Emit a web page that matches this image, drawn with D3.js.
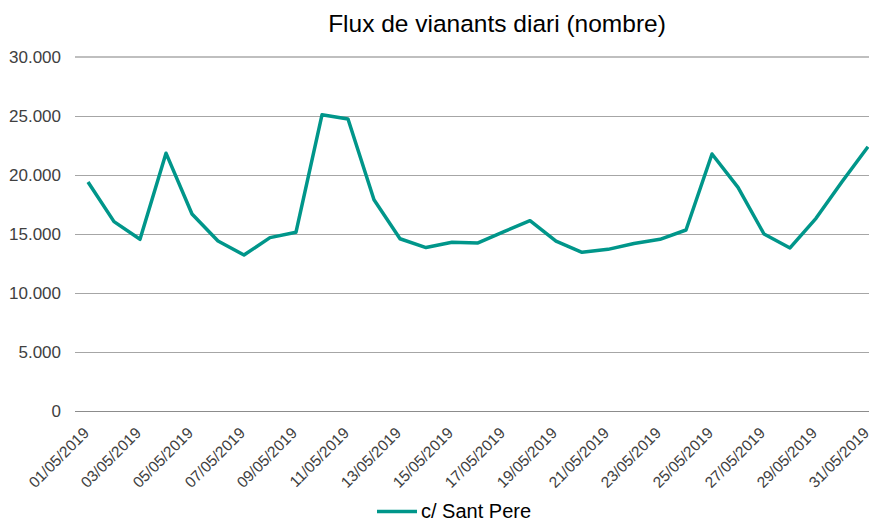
<!DOCTYPE html>
<html>
<head>
<meta charset="utf-8">
<script src="https://cdn.jsdelivr.net/npm/d3@7"></script>
<style>
  body { margin: 0; background: #fff; }
  svg { display: block; font-family: "Liberation Sans", Arial, sans-serif; }
</style>
</head>
<body>
<div id="chart"></div>
<script>
// --- DADES ---
const dates = [
  "01/05/2019","02/05/2019","03/05/2019","04/05/2019","05/05/2019","06/05/2019",
  "07/05/2019","08/05/2019","09/05/2019","10/05/2019","11/05/2019","12/05/2019",
  "13/05/2019","14/05/2019","15/05/2019","16/05/2019","17/05/2019","18/05/2019",
  "19/05/2019","20/05/2019","21/05/2019","22/05/2019","23/05/2019","24/05/2019",
  "25/05/2019","26/05/2019","27/05/2019","28/05/2019","29/05/2019","30/05/2019",
  "31/05/2019"
];
const santPere = [
  19400, 16050, 14550, 21850, 16700, 14400, 13220, 14690, 15150, 25100,
  24750, 17900, 14600, 13850, 14300, 14240, 15200, 16130, 14400, 13450,
  13700, 14200, 14550, 15340, 21780, 18950, 15000, 13820, 16330, 19430,
  22400
];
const yTicks = [0, 5000, 10000, 15000, 20000, 25000, 30000];
const seriesName = "c/ Sant Pere";
const title = "Flux de vianants diari (nombre)";

// --- CONFIGURACIÓ ---
const W = 869, H = 521;
const plot = { left: 75, right: 881, top: 57, bottom: 411 };
const lineColor = "#00968a";
const labelColor = "#404040";

const svg = d3.select("#chart").append("svg")
  .attr("width", W).attr("height", H);

// Escala x per categories (la darrera banda queda retallada a la dreta)
const x = d3.scaleBand().domain(dates).range([plot.left, plot.right]).padding(0);
const xc = d => x(d) + x.bandwidth() / 2;

const y = d3.scaleLinear().domain([0, 30000]).range([plot.bottom, plot.top]);
const fmt = v => v === 0 ? "0" : d3.format(",")(v).replace(/,/g, ".");

// Línies de graella
svg.append("g")
  .selectAll("line")
  .data(yTicks)
  .join("line")
  .attr("x1", plot.left).attr("x2", W)
  .attr("y1", d => y(d)).attr("y2", d => y(d))
  .attr("stroke", d => d === 0 ? "#8c8c8c" : (d === 30000 ? "#bfbfbf" : "#a6a6a6"))
  .attr("stroke-width", d => d === 30000 ? 1.5 : 1)
  .attr("shape-rendering", "crispEdges");

// Eix y
const yAxis = svg.append("g")
  .attr("transform", `translate(${plot.left - 14},0)`)
  .call(d3.axisLeft(y).tickValues(yTicks).tickFormat(fmt).tickSize(0).tickPadding(0));
yAxis.select(".domain").remove();
yAxis.selectAll("text")
  .style("font-size", "17px")
  .attr("fill", labelColor);

// Eix x (etiquetes cada dos dies, girades)
const xAxis = svg.append("g")
  .attr("transform", `translate(0,${plot.bottom})`)
  .call(d3.axisBottom(x).tickValues(dates.filter((d, i) => i % 2 === 0)).tickSize(0).tickPadding(0));
xAxis.select(".domain").remove();
xAxis.selectAll("text")
  .style("font-size", "15.5px")
  .attr("fill", labelColor)
  .attr("text-anchor", "end")
  .attr("dy", 0)
  .attr("transform", "translate(2,23) rotate(-45)");

// Sèrie
const line = d3.line()
  .x((d, i) => xc(dates[i]))
  .y(d => y(d));

svg.append("path")
  .datum(santPere)
  .attr("fill", "none")
  .attr("stroke", lineColor)
  .attr("stroke-width", 3.5)
  .attr("stroke-linejoin", "round")
  .attr("d", line);

// Títol
svg.append("text")
  .attr("x", 497).attr("y", 32)
  .attr("text-anchor", "middle")
  .style("font-size", "24.5px")
  .attr("fill", "#000")
  .text(title);

// Llegenda
const legend = svg.append("g").attr("transform", "translate(377,511.5)");
legend.append("line")
  .attr("x1", 0).attr("x2", 40)
  .attr("stroke", lineColor).attr("stroke-width", 3.5);
legend.append("text")
  .attr("x", 44).attr("y", 6)
  .style("font-size", "20px")
  .attr("fill", "#000")
  .text(seriesName);
</script>
</body>
</html>
